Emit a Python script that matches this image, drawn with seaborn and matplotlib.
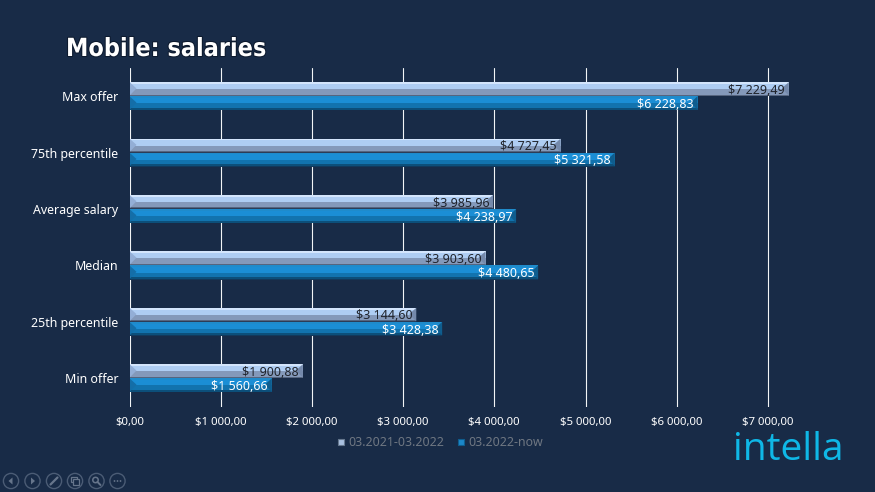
import matplotlib
matplotlib.use("Agg")
import matplotlib.pyplot as plt
import matplotlib.patheffects as pe
import seaborn as sns
import pandas as pd
from matplotlib.patches import Polygon, Circle, Rectangle

categories = ["Max offer", "75th percentile", "Average salary", "Median", "25th percentile", "Min offer"]
series_names = ["03.2021-03.2022", "03.2022-now"]
values_old = [7229.49, 4727.45, 3985.96, 3903.60, 3144.60, 1900.88]
values_new = [6228.83, 5321.58, 4238.97, 4480.65, 3428.38, 1560.66]
tick_values = [0, 1000, 2000, 3000, 4000, 5000, 6000, 7000]

BG = "#182b47"
COL_OLD = "#a4c2ea"
COL_NEW = "#1b87c9"
# bands: (start, end as fraction of the bar's height from top, colour)
BANDS_OLD = [(0.00, 0.14, "#d3e5fc"), (0.14, 0.50, "#aecdf3"),
             (0.50, 0.88, "#8499ba"), (0.88, 0.96, "#56657f"), (0.96, 1.00, "#2c3c57")]
BANDS_NEW = [(0.00, 0.12, "#1f8bcb"), (0.12, 0.50, "#1b8ed5"),
             (0.50, 0.82, "#1273ae"), (0.82, 0.96, "#0c4f7a"), (0.96, 1.00, "#12395c")]

def money(v):
    whole, frac = f"{v:.2f}".split(".")
    if len(whole) > 3:
        whole = whole[:-3] + " " + whole[-3:]
    return f"${whole},{frac}"

sns.set_theme(style="dark", rc={"axes.facecolor": BG, "figure.facecolor": BG})
plt.rcParams["font.family"] = ["Noto Sans", "DejaVu Sans"]

fig = plt.figure(figsize=(8.75, 4.92), dpi=100, facecolor=BG)
W, H = 875, 492
ax = fig.add_axes([129.5 / W, 1 - 406.5 / H, (804.5 - 129.5) / W, (406.5 - 68) / H])
ax.set_facecolor(BG)

df = pd.DataFrame({"category": categories * 2,
                   "value": values_old + values_new,
                   "series": [series_names[0]] * 6 + [series_names[1]] * 6})
sns.barplot(data=df, y="category", x="value", hue="series", order=categories,
            palette=[COL_OLD, COL_NEW], orient="h", width=0.5, gap=0, dodge=True,
            legend=False, ax=ax, zorder=3, linewidth=0)

ax.set_xlim(0, 675 / 0.0912)
ax.set_ylim(5.5, -0.5)
ax.set_xticks(tick_values)
ax.set_xticklabels([money(v) for v in tick_values], color="white", fontsize=8.2)
ax.set_yticks(range(6))
ax.set_yticklabels(categories, color="white", fontsize=8.9)
ax.tick_params(axis="x", length=0, pad=7.5)
ax.tick_params(axis="y", length=0, pad=8)
ax.set_xlabel("")
ax.set_ylabel("")
for s in ax.spines.values():
    s.set_visible(False)
ax.grid(False)
for t in tick_values:
    ax.axvline(t, color="#f2f4f6", lw=0.8, zorder=1)

bar_h = 0.25
bev_x = 7 / 0.0912  # bevel depth in data units
for i in range(6):
    for k, (vals, bands, tc) in enumerate([(values_old, BANDS_OLD, "#20242c"),
                                           (values_new, BANDS_NEW, "white")]):
        v = vals[i]
        top = i - bar_h + k * bar_h
        for a, b, col in bands:
            ax.barh(top + bar_h * (a + b) / 2, v, height=bar_h * (b - a), left=0,
                    color=col, linewidth=0, zorder=4)
        mid = top + bar_h * 0.45
        bot = top + bar_h * 0.96
        lc = "#93aed6" if k == 0 else "#146ea8"
        rc = "#7489ab" if k == 0 else "#0f5d8e"
        ax.add_patch(Polygon([(0, top), (bev_x, mid), (0, bot)], color=lc, lw=0, zorder=5))
        ax.add_patch(Polygon([(v, top), (v - bev_x, mid), (v, bot)], color=rc, lw=0, zorder=5))
        ax.text(v - 0.55 * bev_x, top + bar_h * 0.58, money(v), ha="right", va="center",
                color=tc, fontsize=9, zorder=6)

# Title
fig.text(66 / W, 1 - 49 / H, "Mobile: salaries", color="white", fontsize=18,
         fontweight="bold", va="center", ha="left", family="DejaVu Sans", stretch="condensed",
         path_effects=[pe.withStroke(linewidth=1.5, foreground="#0d1a2e")])

# Overlay in pixel coordinates for the legend swatches, logo and slide controls
oax = fig.add_axes([0, 0, 1, 1], facecolor="none")
oax.set_xlim(0, W)
oax.set_ylim(H, 0)
oax.axis("off")

# Legend
oax.add_patch(Rectangle((338, 439), 6, 6, facecolor="#a9c0e0", edgecolor="#66788f", lw=0.8))
oax.add_patch(Rectangle((458, 439), 6, 6, facecolor="#1b87c9", edgecolor="#0f5d8e", lw=0.8))
oax.text(348, 442, series_names[0], color="#6f7782", fontsize=8.9, va="center", ha="left")
oax.text(468.5, 442, series_names[1], color="#6f7782", fontsize=8.9, va="center", ha="left")

# Logo wordmark
oax.text(733, 450, "intella", color="#0fb7e6", fontsize=28, va="center", ha="left", family="Open Sans")

# Slide-show controls
IC = "#66758b"
centers = [11, 32.5, 54, 75, 96.5, 117.5]
for cx in centers:
    oax.add_patch(Circle((cx, 481), 7.6, fill=False, edgecolor="#4b5c75", lw=1))
y0 = 481
oax.add_patch(Polygon([(8.5, y0), (12.5, y0 - 3.5), (12.5, y0 + 3.5)], color=IC, lw=0))
oax.add_patch(Polygon([(35, y0), (31, y0 - 3.5), (31, y0 + 3.5)], color=IC, lw=0))
oax.plot([50.5, 57.5], [y0 + 3.5, y0 - 3.5], color=IC, lw=1.6)
oax.add_patch(Rectangle((71, y0 - 4), 6, 5, fill=False, edgecolor=IC, lw=0.9))
oax.add_patch(Rectangle((73, y0 - 2), 6, 6, facecolor=BG, edgecolor=IC, lw=0.9))
oax.add_patch(Circle((95.5, y0 - 1), 2.7, fill=False, edgecolor=IC, lw=1.1))
oax.plot([97.5, 100.5], [y0 + 1, y0 + 4], color=IC, lw=1.4)
for dx in (-3, 0, 3):
    oax.add_patch(Circle((117.5 + dx, y0), 0.9, color=IC, lw=0))

fig.savefig("out.png", dpi=100, facecolor=BG)
